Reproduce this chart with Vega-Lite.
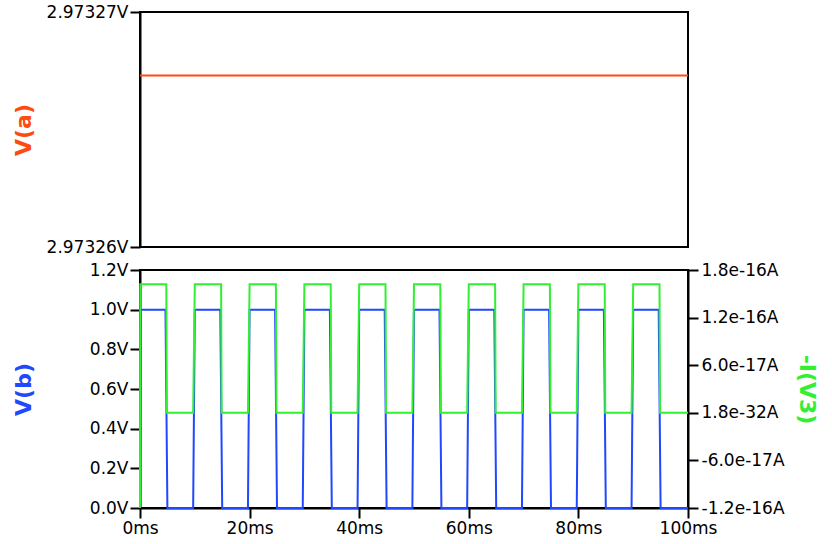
{
  "$schema": "https://vega.github.io/schema/vega-lite/v6.json",
  "padding": {"left": 11, "top": 2, "right": 5, "bottom": 5},
  "background": "white",
  "bounds": "flush",
  "spacing": 23,
  "config": {
    "view": {"stroke": "black", "strokeWidth": 2},
    "axis": {
      "domainColor": "black", "domainWidth": 2,
      "tickColor": "black", "tickWidth": 2, "tickSize": 10,
      "labelFont": "DejaVu Sans", "labelFontSize": 17, "labelColor": "black", "labelPadding": 2,
      "grid": false, "labelFlush": false, "labelOverlap": false,
      "titleFont": "DejaVu Sans", "titleFontSize": 22, "titleFontWeight": "bold"
    },
    "line": {"strokeWidth": 2}
  },
  "datasets": {
    "va": [{"t": 0, "v": 2.9732673}, {"t": 100, "v": 2.9732673}],
    "vb": [
      {"t": 0, "v": 0}, {"t": 0.1, "v": 1},
      {"t": 4.65, "v": 1}, {"t": 5, "v": 0}, {"t": 9.7, "v": 0}, {"t": 10, "v": 1},
      {"t": 14.65, "v": 1}, {"t": 15, "v": 0}, {"t": 19.7, "v": 0}, {"t": 20, "v": 1},
      {"t": 24.65, "v": 1}, {"t": 25, "v": 0}, {"t": 29.7, "v": 0}, {"t": 30, "v": 1},
      {"t": 34.65, "v": 1}, {"t": 35, "v": 0}, {"t": 39.7, "v": 0}, {"t": 40, "v": 1},
      {"t": 44.65, "v": 1}, {"t": 45, "v": 0}, {"t": 49.7, "v": 0}, {"t": 50, "v": 1},
      {"t": 54.65, "v": 1}, {"t": 55, "v": 0}, {"t": 59.7, "v": 0}, {"t": 60, "v": 1},
      {"t": 64.65, "v": 1}, {"t": 65, "v": 0}, {"t": 69.7, "v": 0}, {"t": 70, "v": 1},
      {"t": 74.65, "v": 1}, {"t": 75, "v": 0}, {"t": 79.7, "v": 0}, {"t": 80, "v": 1},
      {"t": 84.65, "v": 1}, {"t": 85, "v": 0}, {"t": 89.7, "v": 0}, {"t": 90, "v": 1},
      {"t": 94.65, "v": 1}, {"t": 95, "v": 0}, {"t": 100, "v": 0}
    ],
    "i3": [
      {"t": 0, "v": -1.2e-16}, {"t": 0.05, "v": 1.62e-16},
      {"t": 4.8, "v": 1.62e-16}, {"t": 4.9, "v": 0}, {"t": 9.7, "v": 0}, {"t": 10, "v": 1.62e-16},
      {"t": 14.8, "v": 1.62e-16}, {"t": 14.9, "v": 0}, {"t": 19.7, "v": 0}, {"t": 20, "v": 1.62e-16},
      {"t": 24.8, "v": 1.62e-16}, {"t": 24.9, "v": 0}, {"t": 29.7, "v": 0}, {"t": 30, "v": 1.62e-16},
      {"t": 34.8, "v": 1.62e-16}, {"t": 34.9, "v": 0}, {"t": 39.7, "v": 0}, {"t": 40, "v": 1.62e-16},
      {"t": 44.8, "v": 1.62e-16}, {"t": 44.9, "v": 0}, {"t": 49.7, "v": 0}, {"t": 50, "v": 1.62e-16},
      {"t": 54.8, "v": 1.62e-16}, {"t": 54.9, "v": 0}, {"t": 59.7, "v": 0}, {"t": 60, "v": 1.62e-16},
      {"t": 64.8, "v": 1.62e-16}, {"t": 64.9, "v": 0}, {"t": 69.7, "v": 0}, {"t": 70, "v": 1.62e-16},
      {"t": 74.8, "v": 1.62e-16}, {"t": 74.9, "v": 0}, {"t": 79.7, "v": 0}, {"t": 80, "v": 1.62e-16},
      {"t": 84.8, "v": 1.62e-16}, {"t": 84.9, "v": 0}, {"t": 89.7, "v": 0}, {"t": 90, "v": 1.62e-16},
      {"t": 94.8, "v": 1.62e-16}, {"t": 94.9, "v": 0}, {"t": 100, "v": 0}
    ]
  },
  "vconcat": [
    {
      "width": 548, "height": 235,
      "data": {"name": "va"},
      "mark": {"type": "line", "color": "#ff4a10"},
      "encoding": {
        "x": {"field": "t", "type": "quantitative", "scale": {"domain": [0, 100], "nice": false}, "axis": null},
        "y": {"field": "v", "type": "quantitative",
          "scale": {"domain": [2.97326, 2.97327], "zero": false, "nice": false},
          "axis": {"title": "V(a)", "titleColor": "#ff4a10", "values": [2.97326, 2.97327],
            "labelExpr": "datum.value < 2.973265 ? '2.97326V' : '2.97327V'",
            "minExtent": 95, "maxExtent": 95, "titlePadding": 10}}
      }
    },
    {
      "width": 548, "height": 238,
      "layer": [
        {
          "data": {"name": "vb"},
          "mark": {"type": "line", "color": "#1f48ff"},
          "encoding": {
            "x": {"field": "t", "type": "quantitative", "scale": {"domain": [0, 100], "nice": false},
              "axis": {"title": null, "values": [0, 20, 40, 60, 80, 100], "labelExpr": "datum.value + 'ms'"}},
            "y": {"field": "v", "type": "quantitative",
              "scale": {"domain": [0, 1.2], "nice": false},
              "axis": {"title": "V(b)", "titleColor": "#1f48ff", "values": [0, 0.2, 0.4, 0.6, 0.8, 1.0, 1.2],
                "labelExpr": "format(datum.value, '.1f') + 'V'",
                "minExtent": 95, "maxExtent": 95, "titlePadding": 10}}
          }
        },
        {
          "data": {"name": "i3"},
          "mark": {"type": "line", "color": "#30f030"},
          "encoding": {
            "x": {"field": "t", "type": "quantitative"},
            "y": {"field": "v", "type": "quantitative",
              "scale": {"domain": [-1.2e-16, 1.8e-16], "nice": false, "zero": false},
              "axis": {"orient": "right", "title": "-I(V3)", "titleColor": "#30f030",
                "values": [-1.2e-16, -6e-17, 0, 6e-17, 1.2e-16, 1.8e-16],
                "labelExpr": "round(datum.value*1e17) == 18 ? '1.8e-16A' : round(datum.value*1e17) == 12 ? '1.2e-16A' : round(datum.value*1e17) == 6 ? '6.0e-17A' : round(datum.value*1e17) == 0 ? '1.8e-32A' : round(datum.value*1e17) == -6 ? '-6.0e-17A' : '-1.2e-16A'",
                "labelPadding": 3, "minExtent": 90, "maxExtent": 90, "titlePadding": 16}}
          }
        }
      ],
      "resolve": {"scale": {"y": "independent"}}
    }
  ]
}
